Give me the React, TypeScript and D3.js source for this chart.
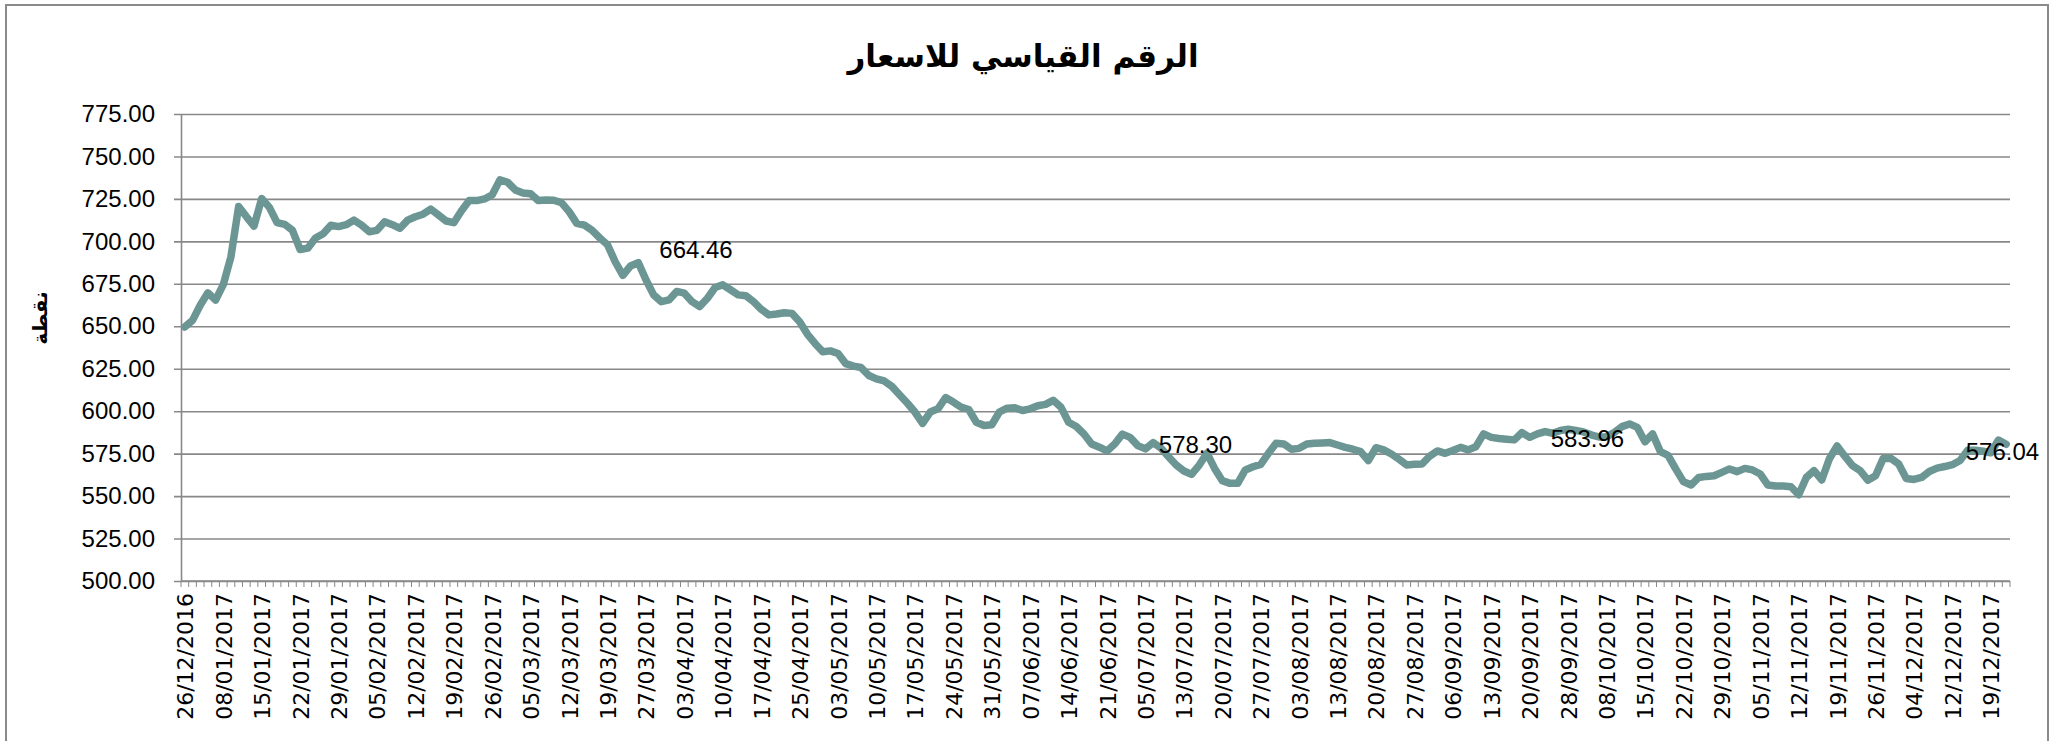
// Line chart of the price index (الرقم القياسي للاسعار) across 2017,
// one point per trading day, labels every fifth day.
import React, { useEffect, useRef } from 'react';
import * as d3 from 'd3';

const title = 'الرقم القياسي للاسعار';
const yTitle = 'نقطة';

// one value per trading day
const indexValues = [
  649.6, 653.5, 662.4, 669.7, 665.4, 674.5, 691.0, 720.5, 714.6, 709.0,
  725.2, 720.0, 711.0, 710.0, 706.5, 695.2, 696.0, 702.0, 704.5, 709.5,
  708.7, 709.8, 712.5, 709.6, 705.7, 706.5, 711.5, 709.8, 707.7, 712.5,
  714.5, 716.0, 719.0, 715.5, 712.0, 711.0, 718.0, 724.0, 724.0, 725.0,
  727.5, 736.2, 734.8, 730.3, 728.5, 728.0, 724.0, 724.4, 724.2, 722.8,
  717.5, 710.6, 709.6, 706.5, 702.0, 698.0, 688.0, 680.0, 685.5, 687.5,
  677.4, 668.5, 664.5, 665.5, 670.5, 669.5, 664.5, 661.6, 666.5, 672.8,
  674.4, 671.5, 668.5, 668.0, 664.5, 660.0, 656.7, 657.2, 658.0, 657.6,
  652.7, 645.4, 639.9, 635.0, 635.5, 634.0, 628.0, 626.5, 625.7, 621.0,
  619.0, 617.8, 614.6, 609.7, 604.8, 599.5, 592.8, 599.5, 601.4, 608.0,
  605.4, 602.4, 601.0, 593.5, 591.6, 592.0, 599.5, 601.8, 602.0, 600.4,
  601.4, 603.2, 604.0, 606.4, 602.4, 593.5, 591.0, 586.6, 580.7, 578.8,
  576.6, 580.7, 586.5, 584.6, 579.7, 577.8, 581.5, 578.3, 573.2, 568.3,
  564.8, 562.8, 568.3, 575.2, 566.3, 559.1, 557.5, 557.5, 565.4, 567.3,
  568.7, 575.2, 581.1, 580.7, 577.6, 578.1, 580.7, 581.1, 581.3, 581.5,
  580.1, 578.7, 577.6, 576.2, 570.9, 578.5, 577.2, 574.8, 571.7, 568.3,
  568.7, 568.9, 573.6, 576.6, 575.2, 576.8, 578.7, 577.2, 579.1, 586.6,
  584.6, 583.9, 583.5, 583.1, 587.4, 584.6, 586.6, 588.0, 587.0, 588.6,
  589.4, 588.7, 587.8, 586.1, 584.8, 585.0, 587.5, 590.9, 592.5, 590.5,
  582.0, 586.6, 576.2, 574.0, 566.0, 558.5, 556.5, 561.0, 561.6, 562.0,
  564.0, 566.0, 564.4, 566.3, 565.4, 563.0, 556.5, 555.9, 555.9, 555.5,
  550.8, 561.0, 565.0, 559.5, 572.0, 579.5, 573.5, 568.0, 565.0, 559.4,
  562.0, 572.2, 572.2, 569.0, 560.4, 559.8, 561.0, 564.5, 566.5, 567.4,
  568.5, 571.0, 577.0, 577.0, 576.4, 575.5, 583.0, 580.5
];

// date shown under every fifth trading day
const dateLabels = [
  '26/12/2016', '08/01/2017', '15/01/2017', '22/01/2017', '29/01/2017', '05/02/2017',
  '12/02/2017', '19/02/2017', '26/02/2017', '05/03/2017', '12/03/2017', '19/03/2017',
  '27/03/2017', '03/04/2017', '10/04/2017', '17/04/2017', '25/04/2017', '03/05/2017',
  '10/05/2017', '17/05/2017', '24/05/2017', '31/05/2017', '07/06/2017', '14/06/2017',
  '21/06/2017', '05/07/2017', '13/07/2017', '20/07/2017', '27/07/2017', '03/08/2017',
  '13/08/2017', '20/08/2017', '27/08/2017', '06/09/2017', '13/09/2017', '20/09/2017',
  '28/09/2017', '08/10/2017', '15/10/2017', '22/10/2017', '29/10/2017', '05/11/2017',
  '12/11/2017', '19/11/2017', '26/11/2017', '04/12/2017', '12/12/2017', '19/12/2017'
];

const yTicks = [500, 525, 550, 575, 600, 625, 650, 675, 700, 725, 750, 775];

// annotated points: day index and the value printed next to it
const noteIndex = [62, 127, 178, 232];
const noteValues = [664.46, 578.30, 583.96, 576.04];

const W = 2057, H = 741;
const margin = { left: 181, right: 47, top: 114, bottom: 160 };
const lineColor = '#6b9694';
const gridColor = '#888888';

export default function App() {
  const ref = useRef(null);

  useEffect(() => {
    const svg = d3.select(ref.current);
    svg.selectAll('*').remove();

    const x = d3.scaleBand()
      .domain(d3.range(indexValues.length))
      .range([margin.left, W - margin.right])
      .padding(0);
    const cx = (i) => x(i) + x.bandwidth() / 2;
    const y = d3.scaleLinear()
      .domain([500, 775])
      .range([H - margin.bottom, margin.top]);

    // chart frame
    svg.append('rect')
      .attr('x', 6).attr('y', 5)
      .attr('width', W - 15).attr('height', H + 20)
      .attr('fill', 'white')
      .attr('stroke', '#8a8a8a').attr('stroke-width', 2);

    svg.append('text')
      .attr('x', 1023).attr('y', 67)
      .attr('text-anchor', 'middle')
      .attr('direction', 'rtl')
      .style('font-family', 'DejaVu Sans, sans-serif')
      .style('font-weight', 'bold')
      .style('font-size', '31px')
      .text(title);

    // horizontal grid + y axis
    const yAxis = d3.axisLeft(y)
      .tickValues(yTicks)
      .tickSize(-(W - margin.left - margin.right))
      .tickSizeOuter(0)
      .tickPadding(26)
      .tickFormat(d3.format('.2f'));
    const gy = svg.append('g')
      .attr('transform', `translate(${margin.left},0)`)
      .call(yAxis);
    gy.select('.domain').attr('stroke', gridColor).attr('stroke-width', 1.6);
    gy.selectAll('.tick line')
      .attr('x1', -7)
      .attr('stroke', gridColor).attr('stroke-width', 1.6);
    gy.selectAll('.tick text')
      .attr('fill', '#000')
      .style('font-family', 'Liberation Sans, Arial, sans-serif')
      .style('font-size', '24px');

    svg.append('text')
      .attr('transform', `translate(40,318) rotate(-90)`)
      .attr('text-anchor', 'middle')
      .attr('dominant-baseline', 'central')
      .style('font-family', 'DejaVu Sans, sans-serif')
      .style('font-weight', 'bold')
      .style('font-size', '20px')
      .text(yTitle);

    // x axis: a tick between every day, a date under every fifth
    const base = H - margin.bottom;
    const gx = svg.append('g');
    gx.append('line')
      .attr('x1', margin.left).attr('x2', W - margin.right)
      .attr('y1', base).attr('y2', base)
      .attr('stroke', gridColor).attr('stroke-width', 1.6);
    gx.selectAll('.minor')
      .data(d3.range(indexValues.length + 1))
      .enter().append('line')
      .attr('x1', (d) => margin.left + d * x.bandwidth())
      .attr('x2', (d) => margin.left + d * x.bandwidth())
      .attr('y1', base).attr('y2', base + 6)
      .attr('stroke', gridColor).attr('stroke-width', 1);
    gx.selectAll('.date')
      .data(dateLabels)
      .enter().append('text')
      .attr('transform', (d, k) => `translate(${cx(k * 5) + 1},${base + 12}) rotate(-90)`)
      .attr('text-anchor', 'end')
      .attr('dominant-baseline', 'central')
      .style('font-family', 'DejaVu Sans, sans-serif')
      .style('font-size', '22px')
      .text((d) => d);

    const line = d3.line()
      .x((d, i) => cx(i))
      .y((d) => y(d))
      .curve(d3.curveLinear);
    svg.append('path')
      .datum(indexValues)
      .attr('d', line)
      .attr('fill', 'none')
      .attr('stroke', lineColor)
      .attr('stroke-width', 7.5)
      .attr('stroke-linejoin', 'round')
      .attr('stroke-linecap', 'round');

    const noteShift = [-52, -4, 0, 0];
    svg.selectAll('.note')
      .data(noteValues)
      .enter().append('text')
      .attr('x', (d, k) => cx(noteIndex[k]) - 2)
      .attr('y', (d, k) => y(d) + noteShift[k])
      .attr('dominant-baseline', 'central')
      .style('font-family', 'Liberation Sans, Arial, sans-serif')
      .style('font-size', '24px')
      .text((d) => d.toFixed(2));
  }, []);

  return (
    <svg ref={ref} width={W} height={H}
      style={{ position: 'absolute', left: 0, top: 0, display: 'block', background: 'white' }} />
  );
}
